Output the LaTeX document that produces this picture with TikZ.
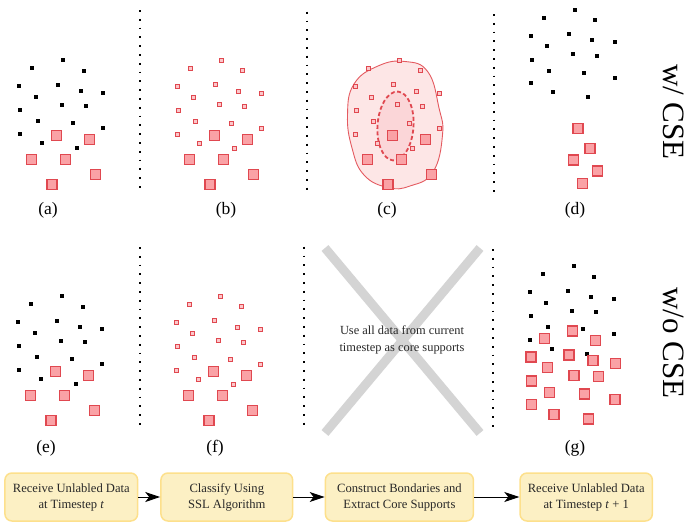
\documentclass[tikz,border=0pt]{standalone}
\usepackage{fontspec}
\setmainfont{Liberation Serif}
\usetikzlibrary{arrows.meta}
\definecolor{redE}{RGB}{224,72,80}
\definecolor{redF}{RGB}{250,162,166}
\definecolor{blobF}{RGB}{253,230,230}
\definecolor{blobE}{RGB}{228,90,96}
\definecolor{innerF}{RGB}{251,214,216}
\definecolor{boxF}{RGB}{252,240,196}
\definecolor{boxE}{RGB}{253,224,140}
\definecolor{xgray}{RGB}{212,212,212}
\definecolor{txt}{RGB}{40,40,40}
\def\ptsA{63.3/60.3,32.3/68.3,84/70.7,19.3/86.3,57.7/84.7,80.7/91,103.3/93,35.7/97,61.7/104.7,86/106.3,20.3/110.3,37.7/121.3,73/123.3,103.3/128.3,19.7/134,41.7/143,76.7/148}
\def\ptsR{56.3/135.7,89.3/139.3,31.7/159.3,65.3/159.3,95.3/174.7,52/184.3}
\def\ptsD{578/128.7,590/148.7,573.3/160,597.7/171,582.3/183.3}
\def\ptsG{572.3/331,544.7/338.7,595.7/340.7,531/357,569/355,593/360.7,615.7/363.7,547.3/367.3,574/375.3,598.3/376.7,531.7/381,549.3/392.3,584.7/394,615/399.7,531.3/404.7,554/414.3,588.3/419}
\begin{document}
\begin{tikzpicture}[x=1pt,y=-1pt,
  bigsq/.style={fill=redF,draw=redE,line width=1.2pt},
  smsq/.style={fill=redF!60!white,draw=redE,line width=0.9pt},
  vdots/.style={line width=1.8pt,dash pattern=on 1.8pt off 7pt},
  lbl/.style={font=\fontsize{17.5}{20}\selectfont},
  stepbox/.style={draw=boxE,fill=boxF,line width=1.5pt,rounded corners=7pt,minimum height=48pt,align=center,font=\fontsize{12.6}{16}\selectfont,text=txt,inner sep=0pt},
  flow/.style={-{Stealth[length=15pt,width=10pt,inset=4pt]},line width=1pt},
  side/.style={font=\fontsize{31}{33}\selectfont,rotate=-90}
]
\useasboundingbox (0,0) rectangle (691,522);

% dotted separators
\foreach \xx/\yy in {140/10,307/11.7,494/14,140/247,304/246.7,493.3/249}
  {\draw[vdots] (\xx,\yy) -- ++(0,177.8);}

% (a)
\foreach \x/\y in \ptsA {\fill (\x,\y) ++(-2,-2) rectangle ++(4,4);}
\foreach \x/\y in \ptsR {\filldraw[bigsq] (\x,\y) ++(-5,-5) rectangle ++(10,10);}
% (b)
\begin{scope}[shift={(158,0)}]
\foreach \x/\y in \ptsA {\filldraw[smsq] (\x,\y) ++(-2,-2) rectangle ++(4,4);}
\foreach \x/\y in \ptsR {\filldraw[bigsq] (\x,\y) ++(-5,-5) rectangle ++(10,10);}
\end{scope}
% (c)
\filldraw[fill=blobF,draw=blobE,line width=0.9pt] plot[smooth cycle,tension=0.75] coordinates
  {(405,61.5) (428,72) (439,108) (442.5,135) (433,172) (410,186) (388,187.5) (364,175) (352,148) (347.5,115) (354,84) (378,66)};
\draw[fill=innerF,draw=redE,line width=1.8pt,dash pattern=on 4pt off 2.5pt,rotate around={-4:(395.5,126)}]
  (395.5,126) ellipse [x radius=18pt,y radius=34.5pt];
\begin{scope}[shift={(336,0)}]
\foreach \x/\y in \ptsA {\filldraw[smsq] (\x,\y) ++(-2,-2) rectangle ++(4,4);}
\foreach \x/\y in \ptsR {\filldraw[bigsq] (\x,\y) ++(-5,-5) rectangle ++(10,10);}
\end{scope}
% (d)
\begin{scope}[shift={(511.4,-50.6)}]
\foreach \x/\y in \ptsA {\fill (\x,\y) ++(-2,-2) rectangle ++(4,4);}
\end{scope}
\foreach \x/\y in \ptsD {\filldraw[bigsq] (\x,\y) ++(-5,-5) rectangle ++(10,10);}
% (e)
\begin{scope}[shift={(-1,236)}]
\foreach \x/\y in \ptsA {\fill (\x,\y) ++(-2,-2) rectangle ++(4,4);}
\foreach \x/\y in \ptsR {\filldraw[bigsq] (\x,\y) ++(-5,-5) rectangle ++(10,10);}
\end{scope}
% (f)
\begin{scope}[shift={(157,236)}]
\foreach \x/\y in \ptsA {\filldraw[smsq] (\x,\y) ++(-2,-2) rectangle ++(4,4);}
\foreach \x/\y in \ptsR {\filldraw[bigsq] (\x,\y) ++(-5,-5) rectangle ++(10,10);}
\end{scope}
% (g)
\begin{scope}[shift={(510.4,205.9)}]
\foreach \x/\y in \ptsA {\fill (\x,\y) ++(-2,-2) rectangle ++(4,4);}
\end{scope}
\foreach \x/\y in \ptsG {\filldraw[bigsq] (\x,\y) ++(-5,-5) rectangle ++(10,10);}

% cross
\draw[xgray,line width=9pt] (325,248) -- (480,433);
\draw[xgray,line width=9pt] (480,248) -- (325,433);
\node[font=\fontsize{12.4}{16.5}\selectfont,align=center,text=txt] (xtext) at (402,340) {Use all data from current\\timestep as core supports};

% panel labels
\node[lbl] (la) at (48,210) {(a)};
\node[lbl] (lb) at (226,210) {(b)};
\node[lbl] (lc) at (387,210) {(c)};
\node[lbl] (ld) at (575,210) {(d)};
\node[lbl] (le) at (46,448) {(e)};
\node[lbl] (lf) at (215,448) {(f)};
\node[lbl] (lg) at (575,448) {(g)};

% side labels
\node[side] (wcse) at (674,112) {w/ CSE};
\node[side] (wocse) at (674,343) {w/o CSE};

% flow
\node[stepbox,minimum width=132.7pt] (s1) at (71.3,497) {Receive Unlabled Data\\at Timestep \textit{t}};
\node[stepbox,minimum width=131.7pt] (s2) at (226.8,497) {Classify Using\\SSL Algorithm};
\node[stepbox,minimum width=148pt] (s3) at (399.4,497) {Construct Bondaries and\\Extract Core Supports};
\node[stepbox,minimum width=132.3pt] (s4) at (586.2,497) {Receive Unlabled Data\\at Timestep \textit{t} + 1};
\draw[flow] (s1) -- (s2);
\draw[flow] (s2) -- (s3);
\draw[flow] (s3) -- (s4);
\end{tikzpicture}
\end{document}
